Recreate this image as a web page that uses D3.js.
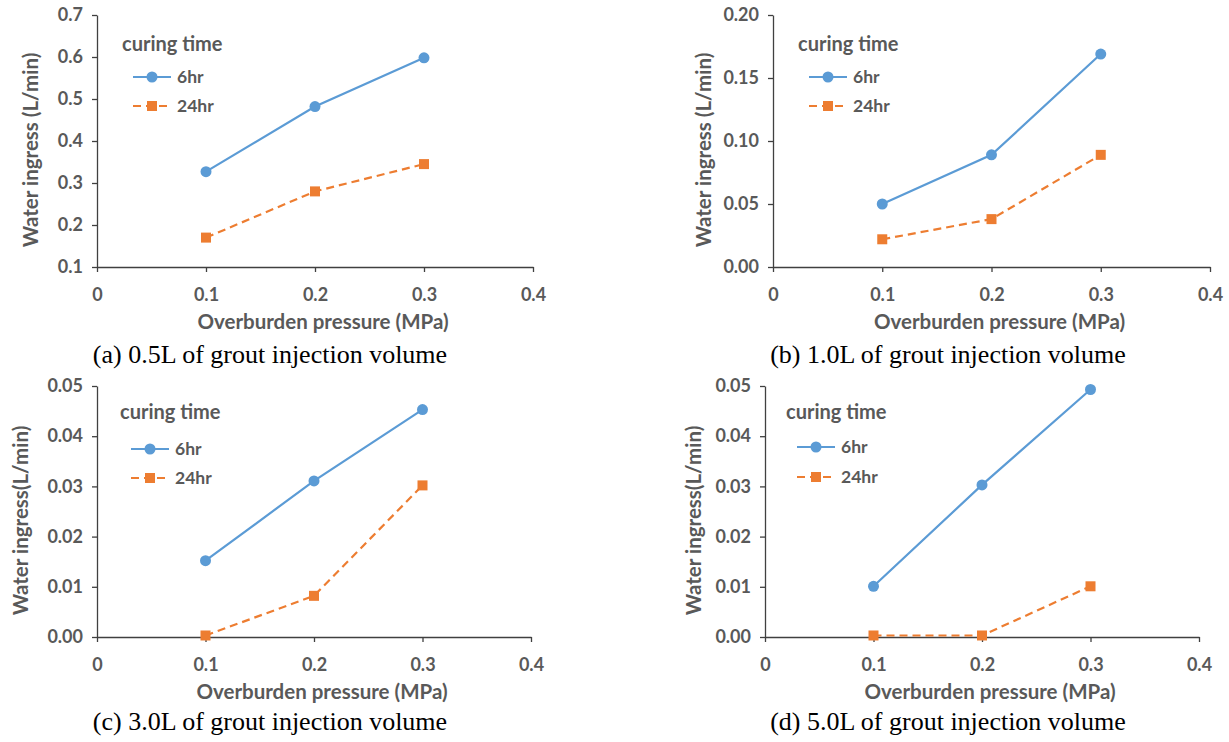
<!DOCTYPE html>
<html><head><meta charset="utf-8">
<script src="https://cdn.jsdelivr.net/npm/d3@7"></script>
<style>body{margin:0;background:#fff}svg{display:block}</style>
</head><body>
<svg id="c" width="1229" height="742"></svg>
<script>
const pressure = [0.1, 0.2, 0.3];
const xTicks = [0, 0.1, 0.2, 0.3, 0.4];
const seriesNames = ["6hr", "24hr"];
const a6 = [0.327, 0.482, 0.598], a24 = [0.170, 0.280, 0.345];
const b6 = [0.050, 0.089, 0.169], b24 = [0.022, 0.038, 0.089];
const c6 = [0.0152, 0.0311, 0.0453], c24 = [0.0003, 0.0082, 0.0302];
const d6 = [0.0101, 0.0303, 0.0493], d24 = [0.0003, 0.0003, 0.0101];
const aTicks = [0.1, 0.2, 0.3, 0.4, 0.5, 0.6, 0.7];
const bTicks = [0, 0.05, 0.10, 0.15, 0.20];
const cdTicks = [0, 0.01, 0.02, 0.03, 0.04, 0.05];
const captions = ["(a) 0.5L of grout injection volume", "(b) 1.0L of grout injection volume",
  "(c) 3.0L of grout injection volume", "(d) 5.0L of grout injection volume"];
const yTitles = ["Water ingress (L/min)", "Water ingress (L/min)", "Water ingress(L/min)", "Water ingress(L/min)"];
const xTitle = "Overburden pressure (MPa)";
const legendTitle = "curing time";

const panels = [
  {s: [a6, a24], yt: aTicks, fmt: d3.format(".1f"), L: 97, R: 533, T: 15, B: 267, cap: [270, 363], ytx: 38, lg: [122, 51, 77, 106]},
  {s: [b6, b24], yt: bTicks, fmt: d3.format(".2f"), L: 773, R: 1210, T: 15, B: 267, cap: [948, 363], ytx: 711, lg: [798, 51, 77, 106]},
  {s: [c6, c24], yt: cdTicks, fmt: d3.format(".2f"), L: 97, R: 531, T: 386, B: 637, cap: [270, 730], ytx: 28, lg: [120, 419, 449, 478]},
  {s: [d6, d24], yt: cdTicks, fmt: d3.format(".2f"), L: 765, R: 1199, T: 386, B: 637, cap: [948, 730], ytx: 701, lg: [786, 419, 447, 477]}
];
const colors = ["#5B9BD5", "#ED7D31"];
const axisCol = "#404040", textCol = "#595959";
const font = "Lato, 'Open Sans', sans-serif";
const svg = d3.select("#c");

panels.forEach((p, i) => {
  const g = svg.append("g");
  const x = d3.scaleLinear().domain([0, 0.4]).range([p.L, p.R]);
  const y = d3.scaleLinear().domain([p.yt[0], p.yt[p.yt.length - 1]]).range([p.B, p.T]);
  const xa = g.append("g").attr("transform", `translate(0,${p.B})`)
    .call(d3.axisBottom(x).tickValues(xTicks).tickFormat(d => d === 0 ? "0" : d3.format(".1f")(d)).tickSizeOuter(0).tickSizeInner(5).tickPadding(16));
  const ya = g.append("g").attr("transform", `translate(${p.L},0)`)
    .call(d3.axisLeft(y).tickValues(p.yt).tickFormat(p.fmt).tickSizeOuter(0).tickSizeInner(5).tickPadding(9));
  [xa, ya].forEach(a => {
    a.select(".domain").attr("stroke", axisCol).attr("stroke-width", 1.3);
    a.selectAll(".tick line").attr("stroke", axisCol).attr("stroke-width", 1.3);
    a.selectAll(".tick text").attr("fill", textCol).attr("font-family", font).attr("font-weight", "bold").attr("font-size", 18);
  });
  g.append("text").attr("x", (p.L + p.R) / 2 + 8).attr("y", p.B + 62).attr("text-anchor", "middle")
    .attr("fill", textCol).attr("font-family", font).attr("font-weight", "bold").attr("font-size", 20.5).text(xTitle);
  g.append("text").attr("transform", `translate(${p.ytx},${(p.T + p.B) / 2 + 9}) rotate(-90)`).attr("text-anchor", "middle")
    .attr("fill", textCol).attr("font-family", font).attr("font-weight", "bold").attr("font-size", 20.5).text(yTitles[i]);
  g.append("text").attr("x", p.cap[0]).attr("y", p.cap[1]).attr("text-anchor", "middle")
    .attr("fill", "#000").attr("font-family", "'Liberation Serif', 'Times New Roman', serif").attr("font-size", 26).text(captions[i]);
  const line = d3.line().x((d, k) => x(pressure[k])).y(d => y(d));
  p.s.forEach((vals, si) => {
    g.append("path").datum(vals).attr("d", line).attr("fill", "none").attr("stroke", colors[si])
      .attr("stroke-width", 2.2).attr("stroke-dasharray", si === 1 ? "8,5" : null);
    if (si === 0) {
      g.selectAll(null).data(vals).join("circle").attr("cx", (d, k) => x(pressure[k])).attr("cy", d => y(d))
        .attr("r", 5.5).attr("fill", colors[0]);
    } else {
      g.selectAll(null).data(vals).join("rect").attr("x", (d, k) => x(pressure[k]) - 5).attr("y", d => y(d) - 5)
        .attr("width", 10).attr("height", 10).attr("fill", colors[1]);
    }
  });
  const [lx, ty, y1, y2] = p.lg;
  g.append("text").attr("x", lx).attr("y", ty).attr("fill", textCol).attr("font-family", font)
    .attr("font-weight", "bold").attr("font-size", 20).text(legendTitle);
  const ls = lx + 11, le = ls + 38, lm = (ls + le) / 2;
  [y1, y2].forEach((yy, si) => {
    g.append("line").attr("x1", ls).attr("x2", le).attr("y1", yy).attr("y2", yy).attr("stroke", colors[si])
      .attr("stroke-width", 2.2).attr("stroke-dasharray", si === 1 ? "8,5" : null);
    if (si === 0) g.append("circle").attr("cx", lm).attr("cy", yy).attr("r", 5.5).attr("fill", colors[0]);
    else g.append("rect").attr("x", lm - 5).attr("y", yy - 5).attr("width", 10).attr("height", 10).attr("fill", colors[1]);
    g.append("text").attr("x", le + 6).attr("y", yy + 6).attr("fill", textCol).attr("font-family", font)
      .attr("font-weight", "bold").attr("font-size", 17.5).text(seriesNames[si]);
  });
});
</script>
</body></html>
